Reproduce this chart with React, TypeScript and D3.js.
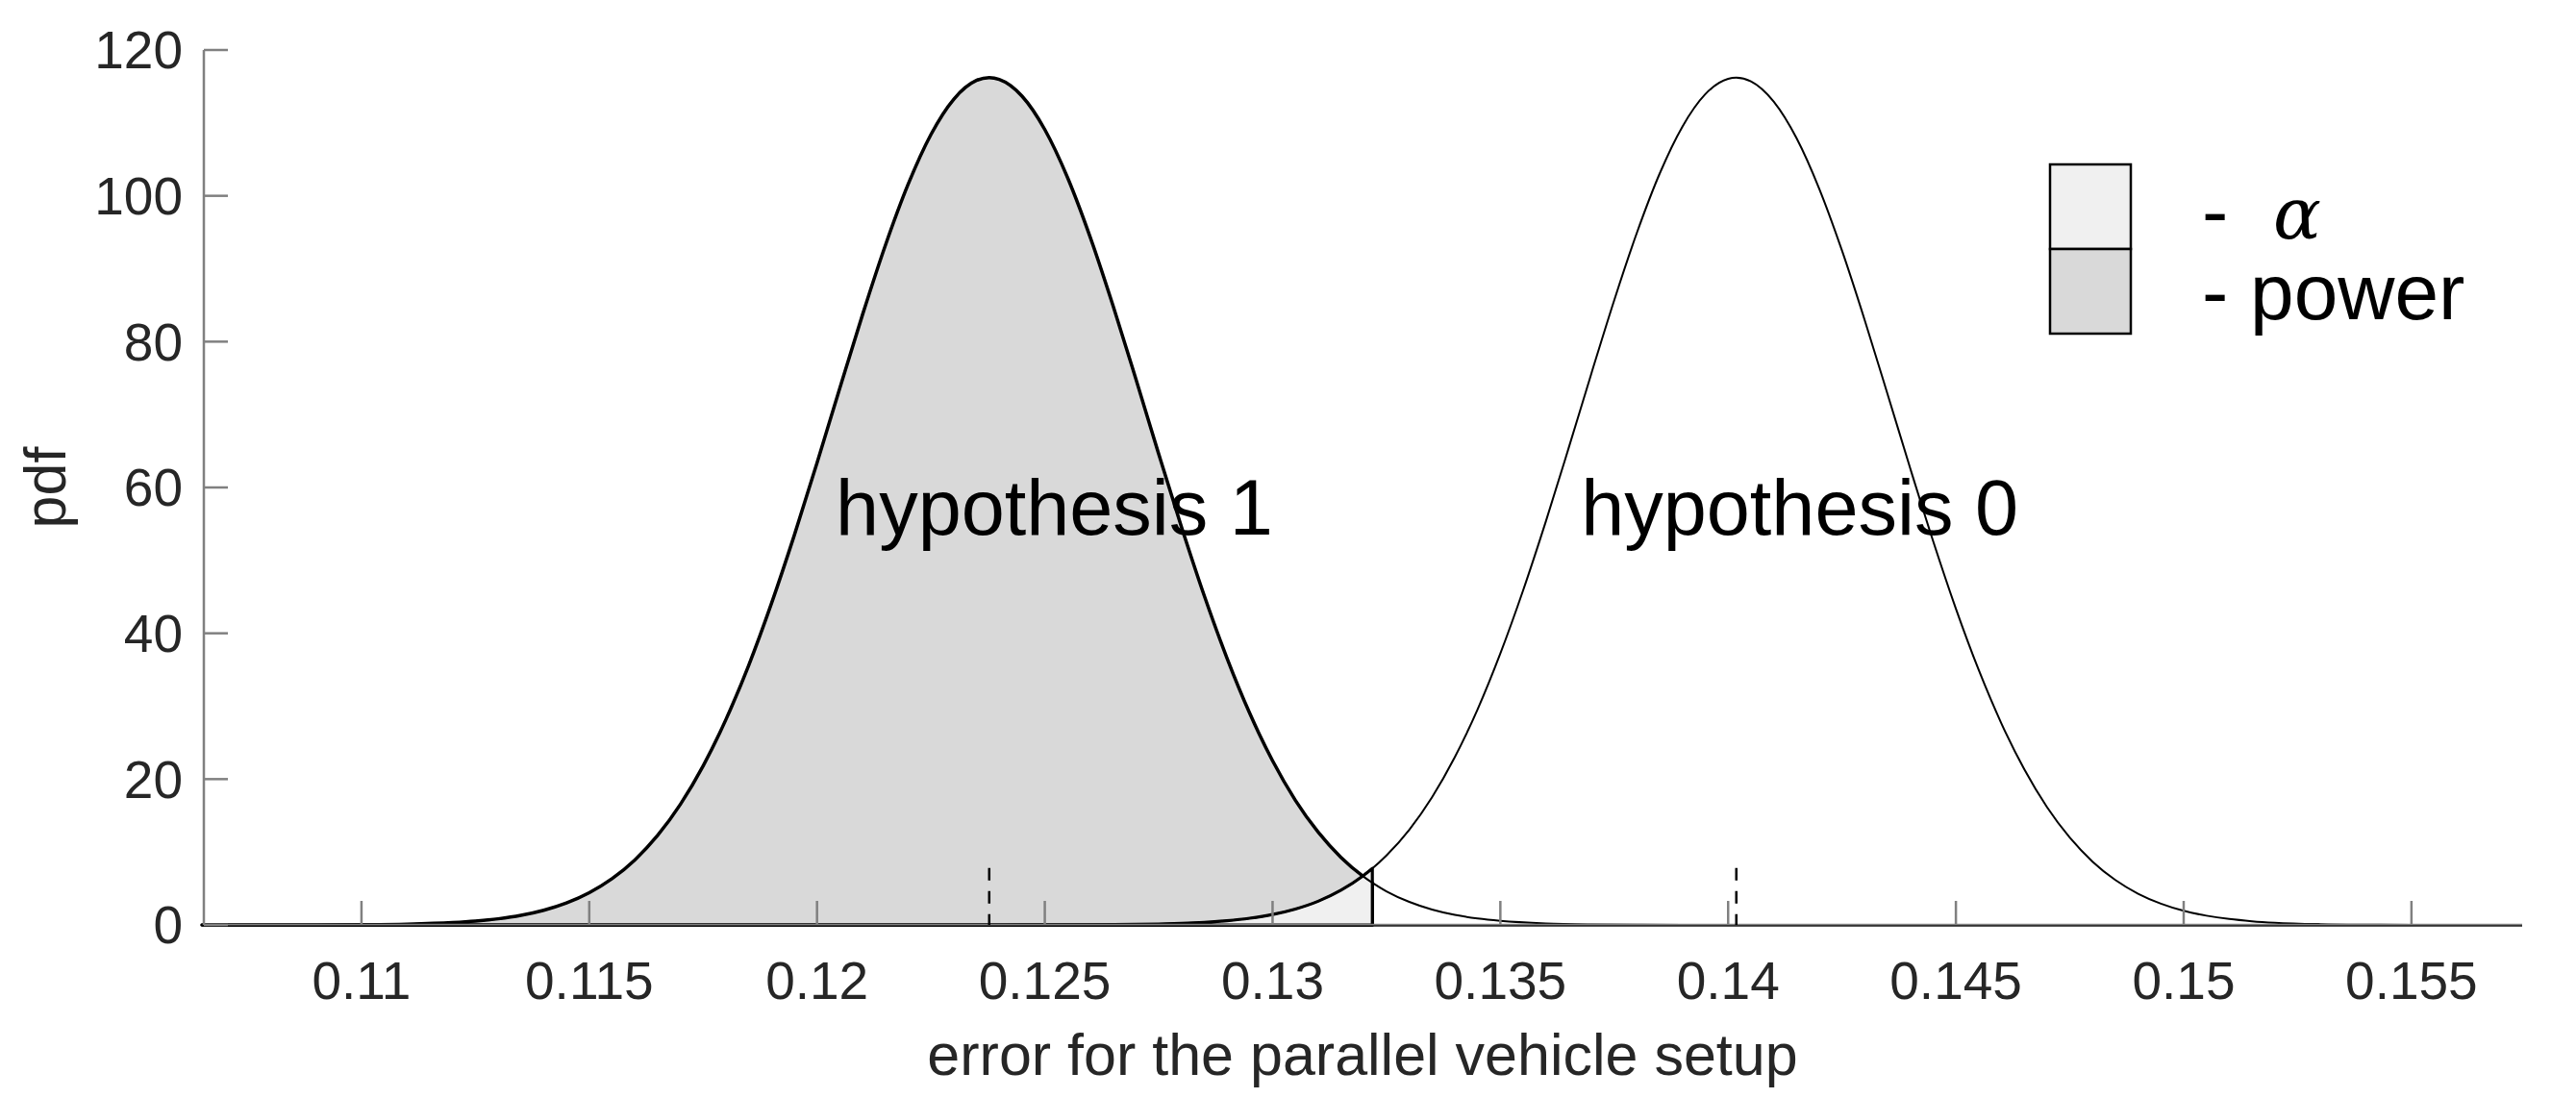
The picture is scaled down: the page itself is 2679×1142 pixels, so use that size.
import React from "react";
import * as d3 from "d3";

// ---- data ----
const h1X = [0.1065, 0.108, 0.109, 0.110, 0.111, 0.112, 0.1125, 0.113, 0.1135, 0.114, 0.1145, 0.115, 0.1155, 0.116, 0.1165, 0.117, 0.1175, 0.118, 0.1185, 0.119, 0.1195, 0.120, 0.1205, 0.121, 0.1215, 0.122, 0.1225, 0.123, 0.1235, 0.12378, 0.124, 0.1245, 0.125, 0.1255, 0.126, 0.1265, 0.127, 0.1275, 0.128, 0.1285, 0.129, 0.1295, 0.130, 0.1305, 0.131, 0.1315, 0.132, 0.13219, 0.1325, 0.133, 0.1335, 0.134, 0.1345, 0.135, 0.136, 0.137, 0.138, 0.139, 0.140, 0.1574];
const h1Y = [0, 0.003, 0.011, 0.037, 0.114, 0.323, 0.525, 0.839, 1.31, 2.01, 3.01, 4.42, 6.34, 8.91, 12.27, 16.53, 21.81, 28.17, 35.6, 44.09, 53.42, 63.37, 73.62, 83.72, 93.2, 101.58, 108.4, 113.24, 115.82, 116.2, 115.96, 113.67, 109.09, 102.5, 94.28, 84.89, 74.86, 64.6, 54.59, 45.16, 36.58, 29.0, 22.51, 17.1, 12.73, 9.27, 6.61, 5.78, 4.61, 3.16, 2.11, 1.38, 0.89, 0.56, 0.21, 0.07, 0.02, 0.006, 0, 0];

const h0X = [0.1065, 0.120, 0.123, 0.124, 0.125, 0.126, 0.127, 0.1275, 0.128, 0.1285, 0.129, 0.1295, 0.130, 0.1305, 0.131, 0.1315, 0.132, 0.13219, 0.1325, 0.133, 0.1335, 0.134, 0.1345, 0.135, 0.1355, 0.136, 0.1365, 0.137, 0.1375, 0.138, 0.1385, 0.139, 0.1395, 0.140, 0.14018, 0.1405, 0.141, 0.1415, 0.142, 0.1425, 0.143, 0.1435, 0.144, 0.1445, 0.145, 0.1455, 0.146, 0.1465, 0.147, 0.1475, 0.148, 0.1485, 0.149, 0.1495, 0.150, 0.1505, 0.151, 0.1515, 0.152, 0.153, 0.154, 0.155, 0.156, 0.1574];
const h0Y = [0, 0, 0.0004, 0.002, 0.007, 0.023, 0.073, 0.127, 0.215, 0.357, 0.579, 0.92, 1.43, 2.18, 3.25, 4.76, 6.8, 7.74, 9.52, 13.04, 17.5, 23.0, 29.56, 37.23, 45.89, 55.37, 65.42, 75.67, 85.69, 94.98, 103.09, 109.53, 113.95, 116.04, 116.2, 115.7, 112.93, 107.93, 100.97, 92.48, 82.92, 72.8, 62.57, 52.65, 43.37, 34.98, 27.62, 21.35, 16.15, 11.97, 8.68, 6.16, 4.28, 2.92, 1.94, 1.27, 0.81, 0.51, 0.31, 0.11, 0.035, 0.01, 0, 0];

const criticalX = 0.13219;
const meanMarkersX = [0.12378, 0.14018];
const meanMarkerHeight = 7.8;

const xTicks = [0.11, 0.115, 0.12, 0.125, 0.13, 0.135, 0.14, 0.145, 0.15, 0.155];
const xTickLabels = ["0.11", "0.115", "0.12", "0.125", "0.13", "0.135", "0.14", "0.145", "0.15", "0.155"];
const yTicks = [0, 20, 40, 60, 80, 100, 120];
const xDomain = [0.10654, 0.15743];
const yDomain = [0, 120];

const xLabel = "error for the parallel vehicle setup";
const yLabel = "pdf";
const curveLabels = [
  { text: "hypothesis 1", x: 0.12041, y: 53.5 },
  { text: "hypothesis 0", x: 0.13677, y: 53.5 },
];

const W = 2679;
const H = 1142;
const FONT = "'Liberation Sans', Arial, Helvetica, sans-serif";
const POWER_FILL = "#d9d9d9";
const ALPHA_FILL = "#f0f0f0";

export default function App() {
  const x = d3.scaleLinear().domain(xDomain).range([212, 2623]);
  const y = d3.scaleLinear().domain(yDomain).range([962, 52]);

  const h1 = h1X.map((v, i) => [v, h1Y[i]] as [number, number]);
  const h0 = h0X.map((v, i) => [v, h0Y[i]] as [number, number]);

  const line = d3
    .line<[number, number]>()
    .x((d) => x(d[0]))
    .y((d) => y(d[1]))
    .curve(d3.curveMonotoneX);
  const area = d3
    .area<[number, number]>()
    .x((d) => x(d[0]))
    .y0(y(0))
    .y1((d) => y(d[1]))
    .curve(d3.curveMonotoneX);

  const powerPts = h1.filter((d) => d[0] <= criticalX + 1e-9);
  const alphaPts = h0.filter((d) => d[0] <= criticalX + 1e-9);

  const axisColor = "#808080";
  const textColor = "#262626";

  return (
    <svg
      width={W}
      height={H}
      style={{ position: "absolute", left: 0, top: 0, background: "#fff" }}
    >
      <rect x={0} y={0} width={W} height={H} fill="#fff" />
      {/* patches */}
      <path d={area(powerPts) || ""} fill={POWER_FILL} stroke="#000" strokeWidth={3.5} strokeLinejoin="round" />
      <path d={area(alphaPts) || ""} fill={ALPHA_FILL} stroke="#000" strokeWidth={3.2} strokeLinejoin="round" />
      {/* curves */}
      <path d={line(h1) || ""} fill="none" stroke="#000" strokeWidth={2} />
      <path d={line(h0) || ""} fill="none" stroke="#000" strokeWidth={2} />

      {/* axes */}
      <line x1={212} x2={212} y1={y(120)} y2={y(0)} stroke={axisColor} strokeWidth={2.5} />
      <line x1={212} x2={2623} y1={y(0)} y2={y(0)} stroke={axisColor} strokeWidth={2.5} />
      <line x1={212} x2={2623} y1={y(0) + 1} y2={y(0) + 1} stroke="#000" strokeWidth={2} opacity={0.6} />
      {yTicks.map((t) => (
        <g key={"y" + t}>
          <line x1={212} x2={237} y1={y(t)} y2={y(t)} stroke={axisColor} strokeWidth={2.5} />
          <text
            x={190}
            y={y(t)}
            dy="0.35em"
            textAnchor="end"
            fontFamily={FONT}
            fontSize={55}
            fill={textColor}
          >
            {t}
          </text>
        </g>
      ))}
      {xTicks.map((t, i) => (
        <g key={"x" + t}>
          <line x1={x(t)} x2={x(t)} y1={y(0)} y2={y(0) - 25} stroke={axisColor} strokeWidth={2.5} />
          <text
            x={x(t)}
            y={1039}
            textAnchor="middle"
            fontFamily={FONT}
            fontSize={55}
            fill={textColor}
          >
            {xTickLabels[i]}
          </text>
        </g>
      ))}

      {/* mean markers */}
      {meanMarkersX.map((m) => (
        <line
          key={"m" + m}
          x1={x(m)}
          x2={x(m)}
          y1={y(meanMarkerHeight)}
          y2={y(0)}
          stroke="#000"
          strokeWidth={2.5}
          strokeDasharray="13 11"
        />
      ))}

      {/* axis labels */}
      <text x={1417} y={1118} textAnchor="middle" fontFamily={FONT} fontSize={61} fill={textColor}>
        {xLabel}
      </text>
      <text
        transform={`translate(68, ${(y(0) + y(120)) / 2}) rotate(-90)`}
        textAnchor="middle"
        fontFamily={FONT}
        fontSize={61}
        fill={textColor}
      >
        {yLabel}
      </text>

      {/* curve labels */}
      {curveLabels.map((c) => (
        <text key={c.text} x={x(c.x)} y={y(c.y)} fontFamily={FONT} fontSize={81} fill="#000">
          {c.text}
        </text>
      ))}

      {/* legend */}
      <rect x={2132} y={171} width={84} height={88} fill={ALPHA_FILL} stroke="#000" strokeWidth={2.5} />
      <rect x={2132} y={259} width={84} height={88} fill={POWER_FILL} stroke="#000" strokeWidth={2.5} />
      <text x={2290} y={248} fontFamily={FONT} fontSize={82} fill="#000">
        -
      </text>
      <text x={2364} y={248} fontFamily="'DejaVu Serif', 'Liberation Serif', serif" fontStyle="italic" fontSize={74} fill="#000">
        α
      </text>
      <text x={2290} y={332} fontFamily={FONT} fontSize={82} fill="#000">
        - power
      </text>
    </svg>
  );
}
